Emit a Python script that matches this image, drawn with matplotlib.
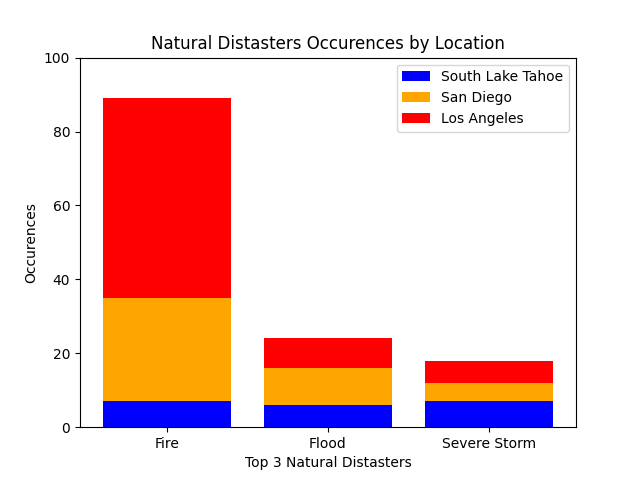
import matplotlib.pyplot as plt
import numpy as np

disasters = ['Fire', 'Flood', 'Severe Storm']
tahoe = [7, 6, 7]
san_diego = [28, 10, 5]
los_angeles = [54, 8, 6]

x = np.arange(len(disasters))
bottom2 = np.array(tahoe) + np.array(san_diego)

fig = plt.figure(figsize=(6.4, 4.8), dpi=100)
plt.bar(x, tahoe, color='blue', label='South Lake Tahoe')
plt.bar(x, san_diego, bottom=tahoe, color='orange', label='San Diego')
plt.bar(x, los_angeles, bottom=bottom2, color='red', label='Los Angeles')
plt.xticks(x, disasters)
plt.ylim(0, 100)
plt.xlabel('Top 3 Natural Distasters')
plt.ylabel('Occurences')
plt.title('Natural Distasters Occurences by Location')
plt.legend()
plt.savefig('out.png')
